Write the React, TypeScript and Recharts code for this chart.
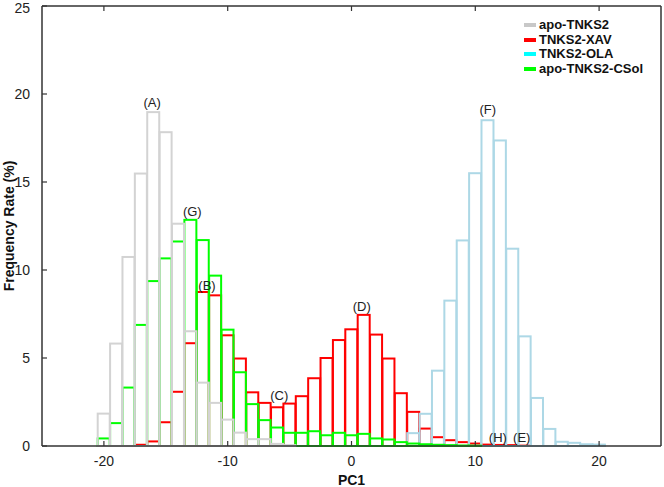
import React from 'react';
import { ComposedChart, Bar, XAxis, YAxis, ReferenceDot, Legend } from 'recharts';

// PC1 bin centres (bin width 1)
const pc1Bins = [
  -20, -19, -18, -17, -16, -15, -14, -13, -12, -11, -10, -9, -8, -7, -6, -5, -4, -3, -2, -1,
  0, 1, 2, 3, 4, 5, 6, 7, 8, 9, 10, 11, 12, 13, 14, 15, 16, 17, 18, 19, 20,
];

// Frequency rate (%) per bin
const apoTNKS2 = [
  1.84, 5.82, 10.74, 15.48, 18.97, 17.83, 12.63, 6.52, 3.6, 2.45, 1.5, 0.76, 0.39, 0.39, 0.12, 0.05,
  0, 0, 0, 0, 0, 0, 0, 0, 0, 0, 0, 0, 0, 0, 0, 0, 0, 0, 0, 0, 0, 0, 0, 0, 0,
];
const tnks2XAV = [
  0, 0, 0, 0.07, 0.26, 1.35, 3.08, 5.84, 8.75, 8.56, 6.29, 4.97, 3.05, 2.45, 2.2, 2.41, 2.83, 3.85, 5.0, 6.02,
  6.63, 7.45, 6.33, 4.97, 3.0, 1.94, 0.99, 0.5, 0.33, 0.22, 0.14, 0.08, 0.06, 0.05, 0.02, 0, 0, 0, 0, 0, 0,
];
const tnks2OLA = [
  0, 0, 0, 0, 0, 0, 0, 0, 0, 0, 0, 0, 0, 0, 0, 0, 0, 0, 0, 0,
  0, 0, 0, 0, 0, 0.73, 1.83, 4.28, 8.26, 11.68, 15.5, 18.51, 17.36, 11.21, 6.23, 2.73, 0.97, 0.24, 0.18, 0.1, 0.08,
];
const apoTNKS2CSol = [
  0.43, 1.3, 3.32, 6.88, 9.37, 10.66, 11.62, 12.85, 11.7, 9.68, 6.61, 4.19, 2.38, 1.47, 1.05, 0.75, 0.75, 0.84, 0.61, 0.75,
  0.61, 0.69, 0.43, 0.37, 0.22, 0.14, 0.1, 0.07, 0.05, 0.03, 0.02, 0, 0, 0, 0, 0, 0, 0, 0, 0, 0,
];

const xTicks = [-20, -10, 0, 10, 20];
const yTicks = [0, 5, 10, 15, 20, 25];
const yTicksRight = [5, 10, 15, 20];

const annotations = [
  { label: '(A)', x: -16.1, y: 19.5 },
  { label: '(G)', x: -12.86, y: 13.33 },
  { label: '(B)', x: -11.67, y: 9.11 },
  { label: '(C)', x: -5.84, y: 2.87 },
  { label: '(D)', x: 0.83, y: 7.92 },
  { label: '(F)', x: 11.0, y: 19.1 },
  { label: '(H)', x: 11.82, y: 0.47 },
  { label: '(E)', x: 13.75, y: 0.47 },
];

const legendNames = ['apo-TNKS2', 'TNKS2-XAV', 'TNKS2-OLA', 'apo-TNKS2-CSol'];
const legendSwatch = ['#c8c8c8', '#ff0000', '#00ffff', '#00ff00'];

const FONT = '"Liberation Sans", Arial, Helvetica, sans-serif';
const AXIS = '#333333';

const rows = pc1Bins.map((x, i) => ({
  x,
  gray: apoTNKS2[i] > 0 ? apoTNKS2[i] : null,
  red: tnks2XAV[i] > 0 ? tnks2XAV[i] : null,
  blue: tnks2OLA[i] > 0 ? tnks2OLA[i] : null,
  green: apoTNKS2CSol[i] > 0 ? apoTNKS2CSol[i] : null,
}));

const outline = (color: string, sw: number) => (props: any) => {
  const { x, y, width, height } = props;
  if (height == null || height <= 0.01 || !isFinite(x)) return <g />;
  return <rect x={x} y={y} width={width} height={height} fill="none" stroke={color} strokeWidth={sw} />;
};

const LegendBox = () => (
  <div style={{ fontFamily: FONT, fontWeight: 'bold', fontSize: 13, color: '#111' }}>
    {legendNames.map((n, i) => (
      <div key={n} style={{ display: 'flex', alignItems: 'center', height: 14.5, lineHeight: '14.5px', whiteSpace: 'nowrap' }}>
        <span style={{ display: 'inline-block', width: 12, height: 4, background: legendSwatch[i], marginRight: 3 }} />
        <span>{n}</span>
      </div>
    ))}
  </div>
);

const hiddenAxis = (id: string) => (
  <XAxis key={id} xAxisId={id} dataKey="x" type="number" domain={[-25, 25]} hide allowDataOverflow />
);

export default function App() {
  return (
    <div style={{ position: 'absolute', left: 0, top: 0, width: 664, height: 487, background: '#fff' }}>
      <ComposedChart
        width={664}
        height={487}
        data={rows}
        margin={{ top: 5, right: 2, left: 12, bottom: 1 }}
        barCategoryGap={0}
        barGap={0}
      >
        <XAxis
          xAxisId="main"
          dataKey="x"
          type="number"
          domain={[-25, 25]}
          ticks={xTicks}
          height={40}
          tickSize={-5}
          tickMargin={15}
          axisLine={{ stroke: AXIS, strokeWidth: 1.5 }}
          tickLine={{ stroke: AXIS, strokeWidth: 1.2 }}
          tick={{ fill: '#222', fontSize: 14, fontFamily: FONT }}
          label={{ value: 'PC1', position: 'insideBottom', offset: 1, fill: '#111', fontSize: 14, fontWeight: 'bold', fontFamily: FONT }}
        />
        <XAxis
          xAxisId="top"
          orientation="top"
          dataKey="x"
          type="number"
          domain={[-25, 25]}
          ticks={xTicks}
          height={1}
          tickSize={-5}
          tickFormatter={() => ''}
          axisLine={{ stroke: AXIS, strokeWidth: 1.5 }}
          tickLine={{ stroke: AXIS, strokeWidth: 1.2 }}
        />
        {hiddenAxis('xr')}
        {hiddenAxis('xb')}
        {hiddenAxis('xg')}
        {hiddenAxis('xa')}
        <YAxis
          yAxisId="left"
          type="number"
          domain={[0, 25]}
          ticks={yTicks}
          width={30}
          tickSize={-5}
          tickMargin={17}
          axisLine={{ stroke: AXIS, strokeWidth: 1.5 }}
          tickLine={{ stroke: AXIS, strokeWidth: 1.2 }}
          tick={{ fill: '#222', fontSize: 14, fontFamily: FONT }}
          label={{
            value: 'Frequency Rate (%)',
            angle: -90,
            position: 'insideLeft',
            offset: -3,
            fill: '#111',
            fontSize: 14,
            fontWeight: 'bold',
            fontFamily: FONT,
            style: { textAnchor: 'middle' },
          }}
        />
        <YAxis
          yAxisId="right"
          orientation="right"
          type="number"
          domain={[0, 25]}
          ticks={yTicksRight}
          width={1}
          tickSize={-5}
          tickFormatter={() => ''}
          axisLine={{ stroke: AXIS, strokeWidth: 1.5 }}
          tickLine={{ stroke: AXIS, strokeWidth: 1.2 }}
        />
        <Bar xAxisId="xr" yAxisId="left" dataKey="red" name={legendNames[1]} shape={outline('#ff0000', 2)} isAnimationActive={false} />
        <Bar xAxisId="xb" yAxisId="left" dataKey="blue" name={legendNames[2]} shape={outline('#add8e6', 2)} isAnimationActive={false} />
        <Bar xAxisId="xg" yAxisId="left" dataKey="green" name={legendNames[3]} shape={outline('#00ff00', 2)} isAnimationActive={false} />
        <Bar xAxisId="xa" yAxisId="left" dataKey="gray" name={legendNames[0]} shape={outline('#d3d3d3', 2)} isAnimationActive={false} />
        {annotations.map((a) => (
          <ReferenceDot
            key={a.label}
            xAxisId="main"
            yAxisId="left"
            x={a.x}
            y={a.y}
            r={0}
            fill="none"
            stroke="none"
            label={{ value: a.label, position: 'center', fill: '#222', fontSize: 13, fontFamily: FONT }}
          />
        ))}
        <Legend
          layout="horizontal"
          verticalAlign="middle"
          align="center"
          wrapperStyle={{ top: 18, left: 524, width: 140, height: 60 }}
          content={() => <LegendBox />}
        />
      </ComposedChart>
    </div>
  );
}
